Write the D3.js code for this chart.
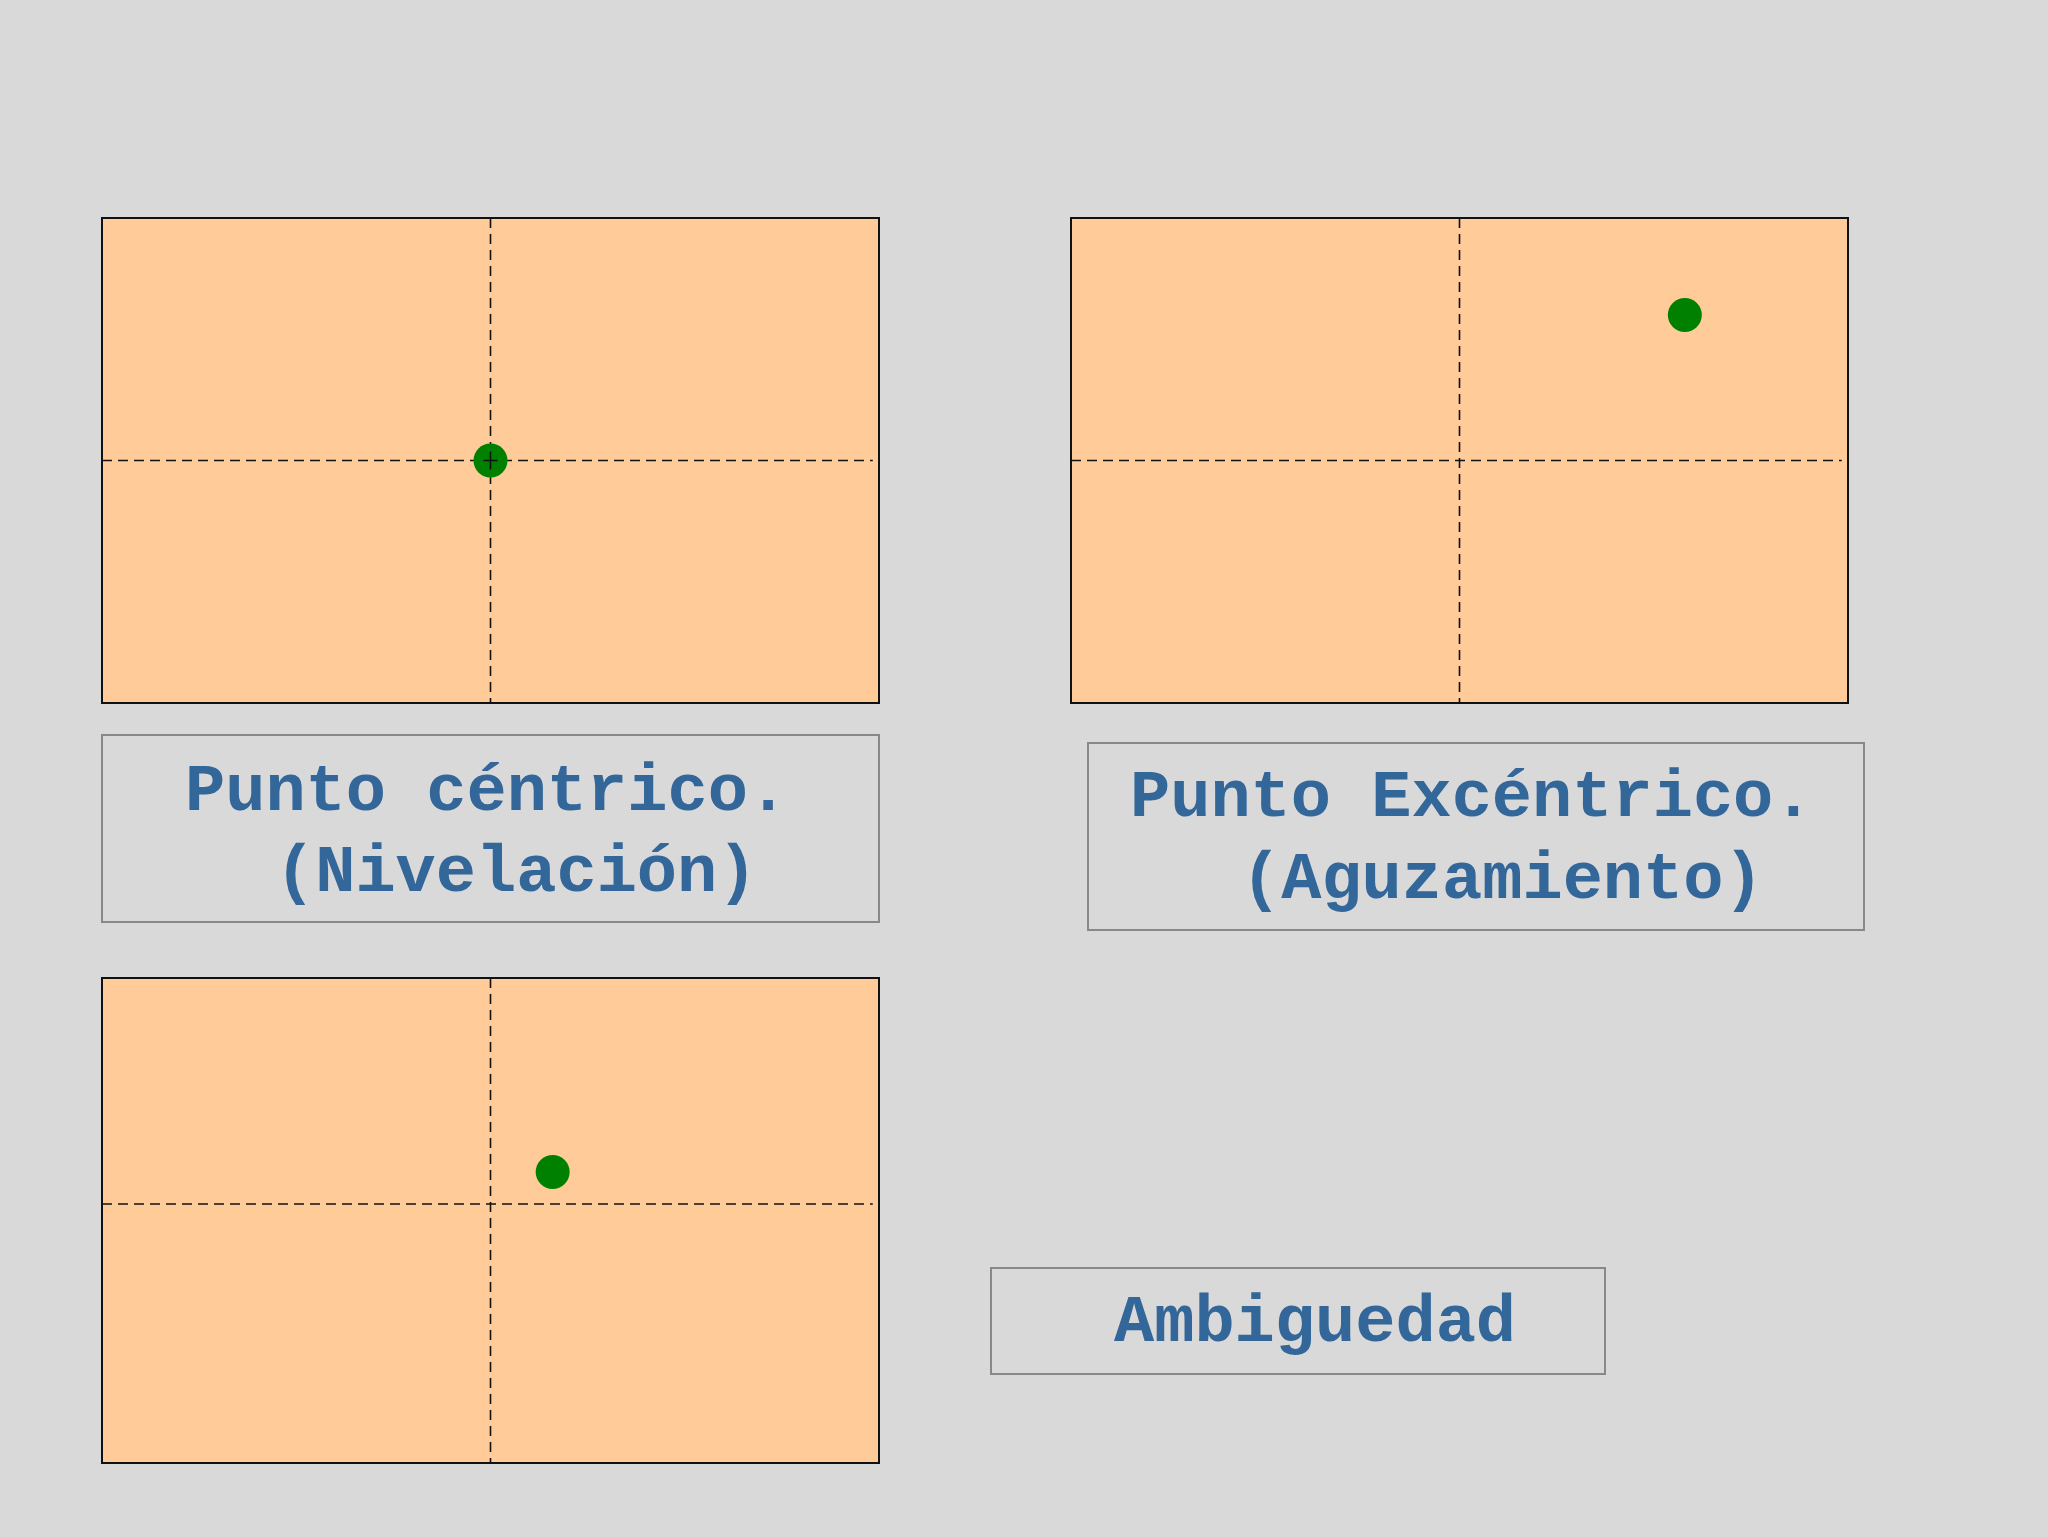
<!DOCTYPE html>
<html>
<head>
<meta charset="utf-8">
<script src="https://cdn.jsdelivr.net/npm/d3@7"></script>
<style>
	body{margin:0;background:#d9d9d9;}
	text{font-family:"Liberation Mono","DejaVu Sans Mono",monospace;font-weight:bold;fill:#336699;}
</style>
</head>
<body>
<svg id="chart" width="2048" height="1537"></svg>
<script>
// panel frames (left, top) and the dot / crosshair position inside each, in 0..1 units
var panelNames = ['centrico', 'excentrico', 'ambiguedad'];
var panelOrigins = [[102, 218], [1071, 218], [102, 978]];
var dotX = [0.5, 0.79, 0.58];
var dotY = [0.5, 0.20, 0.40];
var crossX = [0.5, 0.5, 0.5];
var crossY = [0.5, 0.5, 0.466];

// label boxes
var labelBoxes = [[102, 735, 777, 187], [1088, 743, 776, 187], [991, 1268, 614, 106]];
var labelLines = [
	['Punto céntrico.', '(Nivelación)'],
	['Punto Excéntrico.', '(Aguzamiento)'],
	['Ambiguedad']
];
var labelX = [[185, 275], [1130, 1241], [1114]];
var labelY = [[810, 891], [816, 898], [1341]];

var panelW = 777, panelH = 485;

var svg = d3.select('#chart');

panelNames.forEach(function(name, i){
	var g = svg.append('g')
		.attr('class', 'panel-' + name)
		.attr('transform', `translate(${panelOrigins[i][0]},${panelOrigins[i][1]})`);

	var x = d3.scaleLinear().domain([0, 1]).range([0, panelW]);
	var y = d3.scaleLinear().domain([0, 1]).range([0, panelH]);

	g.append('rect')
		.attr('width', panelW)
		.attr('height', panelH)
		.attr('fill', '#fecb99')
		.attr('stroke', '#111')
		.attr('stroke-width', 2);

	g.append('line')
		.attr('x1', x(crossX[i])).attr('x2', x(crossX[i]))
		.attr('y1', 0).attr('y2', panelH)
		.attr('stroke', '#111').attr('stroke-width', 1.6)
		.attr('stroke-dasharray', '10,6');

	g.append('line')
		.attr('x1', 0).attr('x2', x(0.992))
		.attr('y1', y(crossY[i])).attr('y2', y(crossY[i]))
		.attr('stroke', '#111').attr('stroke-width', 1.6)
		.attr('stroke-dasharray', '10,6');

	g.append('circle')
		.attr('cx', x(dotX[i]))
		.attr('cy', y(dotY[i]))
		.attr('r', 17)
		.attr('fill', '#008000');

	if(i === 0){
		// small cross drawn over the centre dot
		g.append('line')
			.attr('x1', x(dotX[i]) - 7).attr('x2', x(dotX[i]) + 7)
			.attr('y1', y(dotY[i])).attr('y2', y(dotY[i]))
			.attr('stroke', '#111').attr('stroke-width', 1.6);
		g.append('line')
			.attr('x1', x(dotX[i])).attr('x2', x(dotX[i]))
			.attr('y1', y(dotY[i]) - 9).attr('y2', y(dotY[i]) + 9)
			.attr('stroke', '#111').attr('stroke-width', 1.6);
	}

	var b = labelBoxes[i];
	svg.append('rect')
		.attr('x', b[0]).attr('y', b[1])
		.attr('width', b[2]).attr('height', b[3])
		.attr('fill', 'none')
		.attr('stroke', '#888')
		.attr('stroke-width', 2);

	labelLines[i].forEach(function(t, j){
		svg.append('text')
			.attr('x', labelX[i][j])
			.attr('y', labelY[i][j])
			.attr('font-size', 67)
			.text(t);
	});
});
</script>
</body>
</html>
